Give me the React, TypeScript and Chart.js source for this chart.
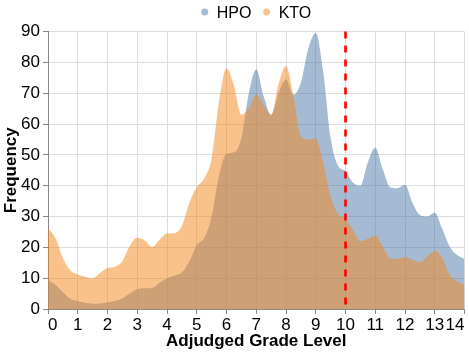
import React, { useEffect, useRef } from "react";
import { Chart, registerables } from "chart.js";

Chart.register(...registerables);

const seriesNames = ["HPO", "KTO"];

const gradeLevels = [
  0, 0.25, 0.5, 0.75, 1, 1.25, 1.5, 1.75, 2, 2.25, 2.5, 2.75, 3, 3.25, 3.5, 3.75,
  4, 4.25, 4.5, 4.75, 5, 5.25, 5.5, 5.75, 6, 6.25, 6.5, 6.75, 7, 7.25, 7.5, 7.75,
  8, 8.25, 8.5, 8.75, 9, 9.25, 9.5, 9.75, 10, 10.25, 10.5, 10.75, 11, 11.25, 11.5, 11.75,
  12, 12.25, 12.5, 12.75, 13, 13.25, 13.5, 13.75, 14,
];

const hpoFrequency = [
  9.3, 7.9, 5.5, 3.3, 2.5, 2.0, 1.7, 1.8, 2.2, 2.6, 3.4, 5.0, 6.4, 6.7, 6.8, 8.5,
  10.0, 10.8, 11.8, 15.5, 20.7, 23.0, 30.0, 43.5, 50.3, 50.8, 55.5, 70.0, 77.7, 69.0, 63.0, 70.0,
  74.4, 69.5, 73.5, 84.5, 89.5, 77.0, 55.5, 46.5, 44.7, 41.0, 40.0, 47.5, 52.3, 45.5, 39.5, 39.2,
  40.3, 34.5, 30.5, 30.0, 31.2, 26.0, 20.3, 17.5, 16.2,
];

const ktoFrequency = [
  26.3, 23.0, 16.5, 12.6, 11.2, 10.5, 10.0, 11.7, 13.3, 13.7, 15.5, 20.5, 23.1, 22.3, 20.1, 22.5,
  24.5, 24.6, 27.0, 34.5, 39.5, 42.3, 49.0, 67.5, 78.2, 72.5, 63.1, 65.0, 69.6, 66.0, 63.0, 73.0,
  78.8, 69.0, 56.0, 55.0, 55.4, 47.5, 36.5, 30.8, 29.3, 25.7, 22.0, 22.8, 23.8, 20.3, 16.5, 16.3,
  16.9, 16.0, 15.2, 17.0, 18.8, 16.6, 11.1, 9.0, 7.9,
];

const xTickLabels = ["0", "1", "2", "3", "4", "5", "6", "7", "8", "9", "10", "11", "12", "13", "14"];
const yTickLabels = ["0", "10", "20", "30", "40", "50", "60", "70", "80", "90"];
const thresholdGrade = 10;

const FONT = '"Liberation Sans", Arial, Helvetica, sans-serif';
const seriesColors = ["rgba(76,120,168,0.5)", "rgba(245,133,24,0.5)"];

export default function App() {
  const canvasRef = useRef<HTMLCanvasElement>(null);

  useEffect(() => {
    if (!canvasRef.current) return;

    const legendPlugin = {
      id: "topLegend",
      afterDraw(chart: any) {
        const ctx = chart.ctx;
        const area = chart.chartArea;
        ctx.save();
        ctx.font = `16px ${FONT}`;
        ctx.textAlign = "left";
        ctx.textBaseline = "alphabetic";
        const r = 3.5;
        const gapText = 8.5;
        const gapItem = 11.7;
        const widths = seriesNames.map((n) => ctx.measureText(n).width);
        let total = 0;
        widths.forEach((w, i) => {
          total += 2 * r + gapText + w + (i > 0 ? gapItem : 0);
        });
        let x = (area.left + area.right) / 2 - total / 2;
        const cy = 12;
        seriesNames.forEach((n, i) => {
          ctx.beginPath();
          ctx.fillStyle = seriesColors[i];
          ctx.arc(x + r, cy, r, 0, Math.PI * 2);
          ctx.fill();
          ctx.fillStyle = "#000";
          ctx.fillText(n, x + 2 * r + gapText, 17.5);
          x += 2 * r + gapText + widths[i] + gapItem;
        });
        ctx.restore();
      },
    };

    const thresholdPlugin = {
      id: "thresholdLine",
      afterDatasetsDraw(chart: any) {
        const ctx = chart.ctx;
        const xs = chart.scales.x;
        const ys = chart.scales.y;
        const px = xs.getPixelForValue(thresholdGrade);
        ctx.save();
        ctx.strokeStyle = "#ff0000";
        ctx.lineWidth = 2.6;
        ctx.setLineDash([7, 7]);
        ctx.beginPath();
        ctx.moveTo(px, ys.getPixelForValue(90));
        ctx.lineTo(px, ys.getPixelForValue(0));
        ctx.stroke();
        ctx.restore();
      },
    };

    const makeData = (vals: number[]) => gradeLevels.map((x, i) => ({ x, y: vals[i] }));

    const chart = new Chart(canvasRef.current, {
      type: "line",
      data: {
        datasets: [
          {
            label: seriesNames[0],
            data: makeData(hpoFrequency),
            backgroundColor: seriesColors[0],
            borderColor: "transparent",
            borderWidth: 0,
            pointRadius: 0,
            fill: "origin",
            cubicInterpolationMode: "monotone",
            order: 1,
          },
          {
            label: seriesNames[1],
            data: makeData(ktoFrequency),
            backgroundColor: seriesColors[1],
            borderColor: "transparent",
            borderWidth: 0,
            pointRadius: 0,
            fill: "origin",
            cubicInterpolationMode: "monotone",
            order: 0,
          },
        ],
      },
      options: {
        responsive: false,
        animation: false,
        devicePixelRatio: 1,
        layout: { padding: { top: 31.5, right: 4.5, left: 0, bottom: 0 } },
        plugins: {
          legend: { display: false },
          tooltip: { enabled: false },
        },
        scales: {
          x: {
            type: "linear",
            min: 0,
            max: 14,
            afterFit: (s: any) => {
              s.height = 46;
            },
            border: { color: "#888", width: 1 },
            grid: { color: "#ddd", tickLength: 5, tickColor: "#888" },
            ticks: {
              stepSize: 1,
              autoSkip: false,
              maxRotation: 0,
              align: "inner",
              padding: 1,
              color: "#000",
              font: { size: 17, family: FONT },
              callback: (v: any) => xTickLabels[Math.round(Number(v))] ?? "",
            },
            title: {
              display: true,
              text: "Adjudged Grade Level",
              color: "#000",
              font: { size: 17, weight: "bold", family: FONT },
              padding: { top: 0, bottom: 3 },
            },
          },
          y: {
            min: 0,
            max: 90,
            afterFit: (s: any) => {
              s.width = 48;
            },
            border: { color: "#888", width: 1 },
            grid: { color: "#ddd", tickLength: 5, tickColor: "#888" },
            ticks: {
              stepSize: 10,
              padding: 3,
              color: "#000",
              font: { size: 17, family: FONT },
              callback: (v: any) => yTickLabels[Math.round(Number(v) / 10)] ?? "",
            },
            title: {
              display: true,
              text: "Frequency",
              color: "#000",
              font: { size: 17, weight: "bold", family: FONT },
              padding: { top: 1, bottom: 0 },
            },
          },
        },
      } as any,
      plugins: [legendPlugin, thresholdPlugin],
    });

    return () => chart.destroy();
  }, []);

  return (
    <div style={{ position: "absolute", left: 0, top: 0, width: 469, height: 355 }}>
      <canvas ref={canvasRef} width={469} height={355} style={{ display: "block" }} />
    </div>
  );
}
